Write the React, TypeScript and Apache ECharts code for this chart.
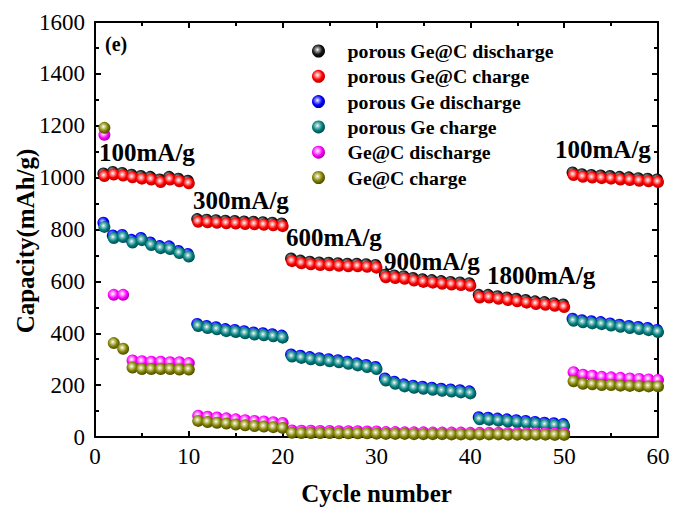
import React, { useEffect, useRef } from "react";
import * as echarts from "echarts";

const seriesNames = [
  "porous Ge@C discharge",
  "porous Ge@C charge",
  "porous Ge discharge",
  "porous Ge charge",
  "Ge@C discharge",
  "Ge@C charge",
];

const porousGeCDischarge = [
  1016, 1022, 1018, 1011, 1006, 1003, 993, 1003, 996, 988,
  840, 838, 836, 834, 833, 831, 830, 828, 826, 823,
  688, 680, 676, 673, 672, 670, 668, 668, 666, 663,
  626, 623, 620, 613, 608, 605, 601, 598, 596, 593,
  548, 548, 543, 538, 533, 528, 523, 520, 516, 511,
  1020, 1013, 1010, 1008, 1006, 1003, 1001, 998, 996, 993,
];
const porousGeCCharge = [
  1006, 1012, 1008, 1001, 996, 993, 983, 993, 986, 978,
  830, 828, 826, 824, 823, 821, 820, 818, 816, 813,
  678, 670, 666, 663, 662, 660, 658, 658, 656, 653,
  616, 613, 610, 603, 598, 595, 591, 588, 586, 583,
  538, 538, 533, 528, 523, 518, 513, 510, 506, 501,
  1010, 1003, 1000, 998, 996, 993, 991, 988, 986, 983,
];
const porousGeDischarge = [
  826, 777, 779, 760, 767, 750, 736, 735, 717, 706,
  436, 428, 423, 416, 413, 408, 403, 400, 396, 391,
  318, 313, 308, 304, 300, 296, 290, 284, 278, 270,
  226, 213, 203, 198, 194, 190, 186, 183, 180, 176,
  76, 74, 71, 68, 65, 62, 58, 55, 53, 50,
  456, 450, 446, 443, 438, 433, 428, 424, 420, 413,
];
const porousGeCharge = [
  810, 767, 771, 750, 759, 740, 728, 725, 709, 696,
  428, 420, 415, 408, 405, 400, 395, 392, 388, 383,
  310, 305, 300, 296, 292, 288, 282, 276, 270, 262,
  218, 205, 195, 190, 186, 182, 178, 175, 172, 168,
  68, 66, 63, 60, 57, 54, 50, 47, 45, 42,
  448, 442, 438, 435, 430, 425, 420, 416, 412, 405,
];
const geCDischarge = [
  1165, 548, 548, 295, 292, 290, 290, 288, 288, 285,
  82, 78, 75, 72, 68, 65, 62, 60, 57, 54,
  25, 24, 24, 23, 23, 22, 22, 22, 21, 21,
  19, 19, 18, 18, 18, 17, 17, 17, 17, 16,
  16, 16, 16, 15, 15, 15, 15, 15, 14, 14,
  250, 240, 236, 232, 230, 228, 226, 224, 222, 220,
];
const geCCharge = [
  1192, 362, 340, 268, 262, 262, 262, 262, 260, 260,
  62, 58, 55, 52, 48, 45, 42, 40, 38, 35,
  16, 15, 15, 15, 15, 14, 14, 14, 14, 13,
  12, 12, 12, 11, 11, 11, 11, 10, 10, 10,
  10, 10, 10, 9, 9, 9, 9, 9, 8, 8,
  215, 205, 203, 200, 200, 198, 197, 196, 195, 195,
];

const rateLabels = [
  { text: "100mA/g", x: 99, y: 152 },
  { text: "300mA/g", x: 193, y: 200 },
  { text: "600mA/g", x: 286, y: 237 },
  { text: "900mA/g", x: 384, y: 261 },
  { text: "1800mA/g", x: 487, y: 275 },
  { text: "100mA/g", x: 555, y: 149 },
];

const FONT = "'Times New Roman', 'Liberation Serif', serif";

const ball = (light: string, base: string, dark: string) => ({
  type: "radial",
  x: 0.42,
  y: 0.4,
  r: 0.62,
  colorStops: [
    { offset: 0, color: "#ffffff" },
    { offset: 0.22, color: light },
    { offset: 0.6, color: base },
    { offset: 1, color: dark },
  ],
});

const colors = [
  ball("#9a9a9a", "#151515", "#000000"),
  ball("#ffa0a0", "#ff0000", "#b00000"),
  ball("#9090ff", "#0000ff", "#0000a0"),
  ball("#90c8c8", "#008080", "#004545"),
  ball("#ffa8ff", "#ff00ff", "#a000a0"),
  ball("#d0d090", "#808000", "#464600"),
];

const allData = [
  porousGeCDischarge,
  porousGeCCharge,
  porousGeDischarge,
  porousGeCharge,
  geCDischarge,
  geCCharge,
];

export default function App() {
  const ref = useRef<HTMLDivElement>(null);
  useEffect(() => {
    if (!ref.current) return;
    const chart = echarts.init(ref.current, undefined, { renderer: "svg" });
    const axisLine = { show: true, onZero: false, lineStyle: { color: "#000", width: 2 } };
    const plain = (v: number) => String(v);
    const option: any = {
      animation: false,
      backgroundColor: "#fff",
      grid: { left: 95, right: 17, top: 22, bottom: 76, containLabel: false },
      xAxis: [
        {
          type: "value",
          min: 0,
          max: 60,
          interval: 10,
          position: "bottom",
          axisLine,
          axisTick: { inside: true, length: 6, lineStyle: { color: "#000", width: 2 } },
          minorTick: { show: true, splitNumber: 2, length: 4, lineStyle: { color: "#000", width: 2 } },
          splitLine: { show: false },
          axisLabel: { color: "#000", fontSize: 23, fontFamily: FONT, margin: 8, formatter: plain },
          name: "Cycle number",
          nameLocation: "middle",
          nameGap: 44,
          nameTextStyle: { color: "#000", fontSize: 25, fontWeight: "bold", fontFamily: FONT },
        },
        {
          type: "value",
          min: 0,
          max: 60,
          interval: 10,
          position: "top",
          axisLine,
          axisTick: { inside: true, length: 6, lineStyle: { color: "#000", width: 2 } },
          minorTick: { show: true, splitNumber: 2, length: 4, lineStyle: { color: "#000", width: 2 } },
          splitLine: { show: false },
          axisLabel: { show: false },
        },
      ],
      yAxis: [
        {
          type: "value",
          min: 0,
          max: 1600,
          interval: 200,
          position: "left",
          axisLine,
          axisTick: { inside: true, length: 6, lineStyle: { color: "#000", width: 2 } },
          minorTick: { show: true, splitNumber: 2, length: 4, lineStyle: { color: "#000", width: 2 } },
          splitLine: { show: false },
          axisLabel: { color: "#000", fontSize: 23, fontFamily: FONT, margin: 10, formatter: plain },
        },
        {
          type: "value",
          min: 0,
          max: 1600,
          interval: 200,
          position: "right",
          axisLine,
          axisTick: { inside: true, length: 6, lineStyle: { color: "#000", width: 2 } },
          minorTick: { show: true, splitNumber: 2, length: 4, lineStyle: { color: "#000", width: 2 } },
          splitLine: { show: false },
          axisLabel: { show: false },
        },
      ],
      legend: {
        orient: "vertical",
        left: 307,
        top: 36,
        itemWidth: 48,
        itemHeight: 13,
        itemGap: 5.3,
        icon: "circle",
        data: seriesNames,
        textStyle: {
          color: "#000",
          fontSize: 19.8,
          fontWeight: "bold",
          fontFamily: FONT,
          lineHeight: 20,
        },
      },
      graphic: [
        {
          type: "text",
          x: 25,
          y: 241,
          rotation: Math.PI / 2,
          style: {
            text: "Capacity(mAh/g)",
            font: `bold 25px ${FONT}`,
            fill: "#000",
            align: "center",
            verticalAlign: "middle",
          },
        },
        {
          type: "text",
          x: 105,
          y: 44,
          style: {
            text: "(e)",
            font: `bold 20px ${FONT}`,
            fill: "#000",
            align: "left",
            verticalAlign: "middle",
          },
        },
        ...rateLabels.map((r) => ({
          type: "text",
          x: r.x,
          y: r.y,
          style: {
            text: r.text,
            font: `bold 25px ${FONT}`,
            fill: "#000",
            align: "left",
            verticalAlign: "middle",
          },
        })),
      ],
      series: allData.map((vals, k) => ({
        name: seriesNames[k],
        type: "scatter",
        xAxisIndex: 0,
        yAxisIndex: 0,
        symbol: "circle",
        symbolSize: 12,
        symbolOffset: k % 2 === 0 && k < 4 ? [-1, 0] : [0, 0],
        itemStyle: { color: colors[k], opacity: 1 },
        data: vals.map((v, i) => [i + 1, v]),
        z: 2 + k,
      })),
    };
    chart.setOption(option);
    return () => chart.dispose();
  }, []);
  return (
    <div
      ref={ref}
      style={{ position: "fixed", left: 0, top: 0, width: 675, height: 513, background: "#fff" }}
    />
  );
}
